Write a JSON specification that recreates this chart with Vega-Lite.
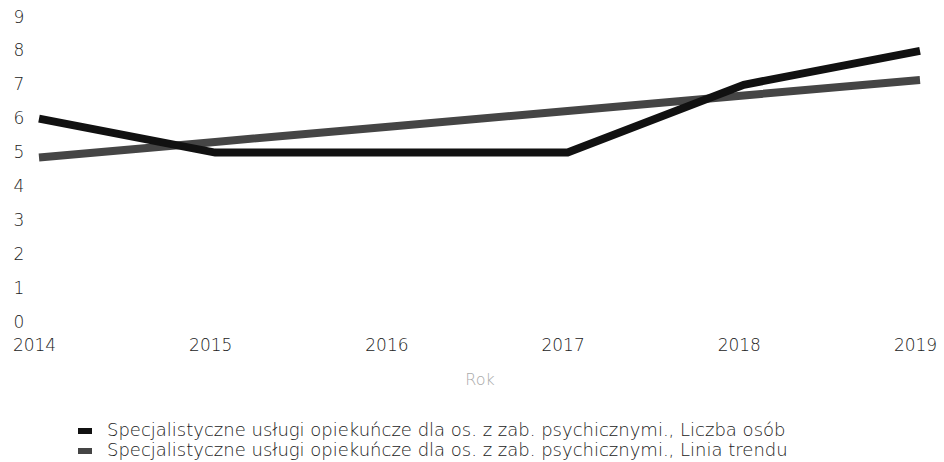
{
  "$schema": "https://vega.github.io/schema/vega-lite/v6.json",
  "width": 881,
  "height": 305,
  "autosize": {"type": "none"},
  "padding": {"left": 39, "top": 17, "right": 24, "bottom": 140},
  "background": "white",
  "config": {
    "view": {"stroke": null},
    "font": "DejaVu Sans",
    "axis": {"grid": false, "domain": false, "ticks": false, "labelFont": "DejaVu Sans", "labelFontWeight": 200, "labelColor": "#222", "labelFontSize": 17, "titleFont": "DejaVu Sans"}
  },
  "data": {
    "values": [
      {"rok": 2014, "wartosc": 4.857, "seria": "Specjalistyczne usługi opiekuńcze dla os. z zab. psychicznymi., Linia trendu"},
      {"rok": 2015, "wartosc": 5.314, "seria": "Specjalistyczne usługi opiekuńcze dla os. z zab. psychicznymi., Linia trendu"},
      {"rok": 2016, "wartosc": 5.771, "seria": "Specjalistyczne usługi opiekuńcze dla os. z zab. psychicznymi., Linia trendu"},
      {"rok": 2017, "wartosc": 6.229, "seria": "Specjalistyczne usługi opiekuńcze dla os. z zab. psychicznymi., Linia trendu"},
      {"rok": 2018, "wartosc": 6.686, "seria": "Specjalistyczne usługi opiekuńcze dla os. z zab. psychicznymi., Linia trendu"},
      {"rok": 2019, "wartosc": 7.143, "seria": "Specjalistyczne usługi opiekuńcze dla os. z zab. psychicznymi., Linia trendu"},
      {"rok": 2014, "wartosc": 6, "seria": "Specjalistyczne usługi opiekuńcze dla os. z zab. psychicznymi., Liczba osób"},
      {"rok": 2015, "wartosc": 5, "seria": "Specjalistyczne usługi opiekuńcze dla os. z zab. psychicznymi., Liczba osób"},
      {"rok": 2016, "wartosc": 5, "seria": "Specjalistyczne usługi opiekuńcze dla os. z zab. psychicznymi., Liczba osób"},
      {"rok": 2017, "wartosc": 5, "seria": "Specjalistyczne usługi opiekuńcze dla os. z zab. psychicznymi., Liczba osób"},
      {"rok": 2018, "wartosc": 7, "seria": "Specjalistyczne usługi opiekuńcze dla os. z zab. psychicznymi., Liczba osób"},
      {"rok": 2019, "wartosc": 8, "seria": "Specjalistyczne usługi opiekuńcze dla os. z zab. psychicznymi., Liczba osób"}
    ]
  },
  "mark": {"type": "line", "strokeWidth": 8, "strokeCap": "butt", "strokeJoin": "miter"},
  "encoding": {
    "x": {
      "field": "rok", "type": "quantitative",
      "scale": {"domain": [2014, 2019], "nice": false, "zero": false},
      "axis": {"values": [2014, 2015, 2016, 2017, 2018, 2019], "format": "d", "labelPadding": 15, "labelOffset": -5, "title": "Rok", "titleColor": "#aaa", "titleFontSize": 16, "titleFontWeight": 200, "titlePadding": 18, "labelFlush": false}
    },
    "y": {
      "field": "wartosc", "type": "quantitative",
      "scale": {"domain": [0, 9], "nice": false},
      "axis": {"values": [0, 1, 2, 3, 4, 5, 6, 7, 8, 9], "title": null, "labelAlign": "left", "labelPadding": 26}
    },
    "color": {
      "field": "seria", "type": "nominal",
      "scale": {
        "domain": ["Specjalistyczne usługi opiekuńcze dla os. z zab. psychicznymi., Liczba osób", "Specjalistyczne usługi opiekuńcze dla os. z zab. psychicznymi., Linia trendu"],
        "range": ["#111111", "#454545"]
      },
      "legend": {
        "title": null, "orient": "none", "legendX": 36, "legendY": 406, "direction": "vertical",
        "symbolType": "M-1,0L1,0", "symbolSize": 196, "symbolStrokeWidth": 6,
        "labelFont": "DejaVu Sans", "labelFontWeight": 200, "labelFontSize": 18, "labelColor": "#222", "labelLimit": 900, "rowPadding": 2, "clipHeight": 16, "labelOffset": 12
      }
    },
    "order": {"field": "seria"}
  }
}
